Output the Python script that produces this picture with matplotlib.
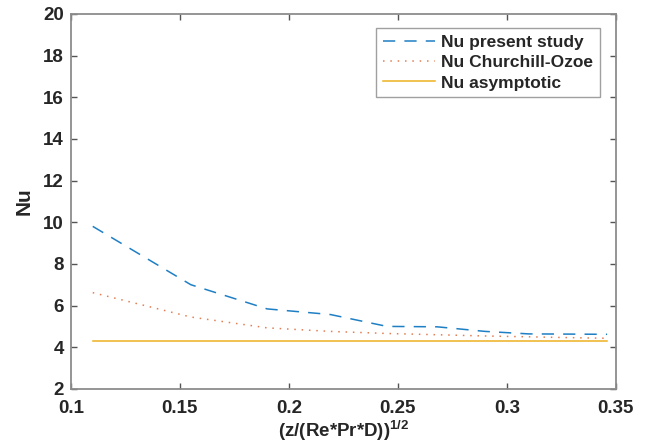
import numpy as np
import matplotlib.pyplot as plt

plt.rcParams['font.family'] = ['Liberation Sans', 'DejaVu Sans']
plt.rcParams['mathtext.fontset'] = 'custom'
plt.rcParams['mathtext.rm'] = 'Liberation Sans'
plt.rcParams['mathtext.bf'] = 'Liberation Sans:bold'

# data
x = [0.11, 0.155, 0.19, 0.219, 0.245, 0.268, 0.29, 0.31, 0.329, 0.346]
nu_present = [9.8, 7.0, 5.84, 5.57, 5.0, 4.98, 4.76, 4.64, 4.63, 4.62]
nu_churchill = [6.62, 5.45, 4.93, 4.76, 4.66, 4.6, 4.54, 4.5, 4.46, 4.43]
nu_asym = [4.29] * len(x)

xticks = [0.1, 0.15, 0.2, 0.25, 0.3, 0.35]
xticklabels = ['0.1', '0.15', '0.2', '0.25', '0.3', '0.35']
yticks = list(range(2, 21, 2))

fig = plt.figure(figsize=(6.51, 4.46), dpi=100)
ax = fig.add_axes([0.109, 0.128, 0.837, 0.841])

ax.plot(x, nu_present, color='#1f7fc4', ls=(0, (8, 6)), lw=1.1, label='Nu present study')
ax.plot(x, nu_churchill, color='#D95319', ls=(0, (1, 3.8)), lw=1.1, alpha=0.75, label='Nu Churchill-Ozoe')
ax.plot(x, nu_asym, color='#EDB120', ls='-', lw=1.1, label='Nu asymptotic')

ax.set_xlim(0.1, 0.35)
ax.set_ylim(2, 20)
ax.set_xticks(xticks)
ax.set_xticklabels(xticklabels)
ax.set_yticks(yticks)

for s in ax.spines.values():
    s.set_color('#8c8c8c')
    s.set_linewidth(1.3)
ax.tick_params(direction='in', length=4, width=1, color='#555555',
               top=True, right=True, labelsize=13.5)
ax.tick_params(axis='x', pad=8)
ax.tick_params(axis='y', pad=5)
for lab in ax.get_xticklabels() + ax.get_yticklabels():
    lab.set_fontweight('bold')
    lab.set_color('#262626')

ax.set_xlabel(r'(z/(Re*Pr*D))$^{\mathbf{1/2}}$', fontsize=13.5, fontweight='bold',
              color='#262626', labelpad=1)
ax.set_ylabel('Nu', fontsize=15, fontweight='bold', color='#262626', labelpad=7)

leg = ax.legend(loc='upper right', bbox_to_anchor=(0.9706, 0.963), prop={'weight': 'bold', 'size': 12.5},
                frameon=True, fancybox=False, edgecolor='#888888', handlelength=3.0,
                borderpad=0.4, labelspacing=0.3, handletextpad=0.35, borderaxespad=0)
leg.get_frame().set_linewidth(1.0)
for t in leg.get_texts():
    t.set_color('#262626')

fig.savefig('out.png', dpi=100)
